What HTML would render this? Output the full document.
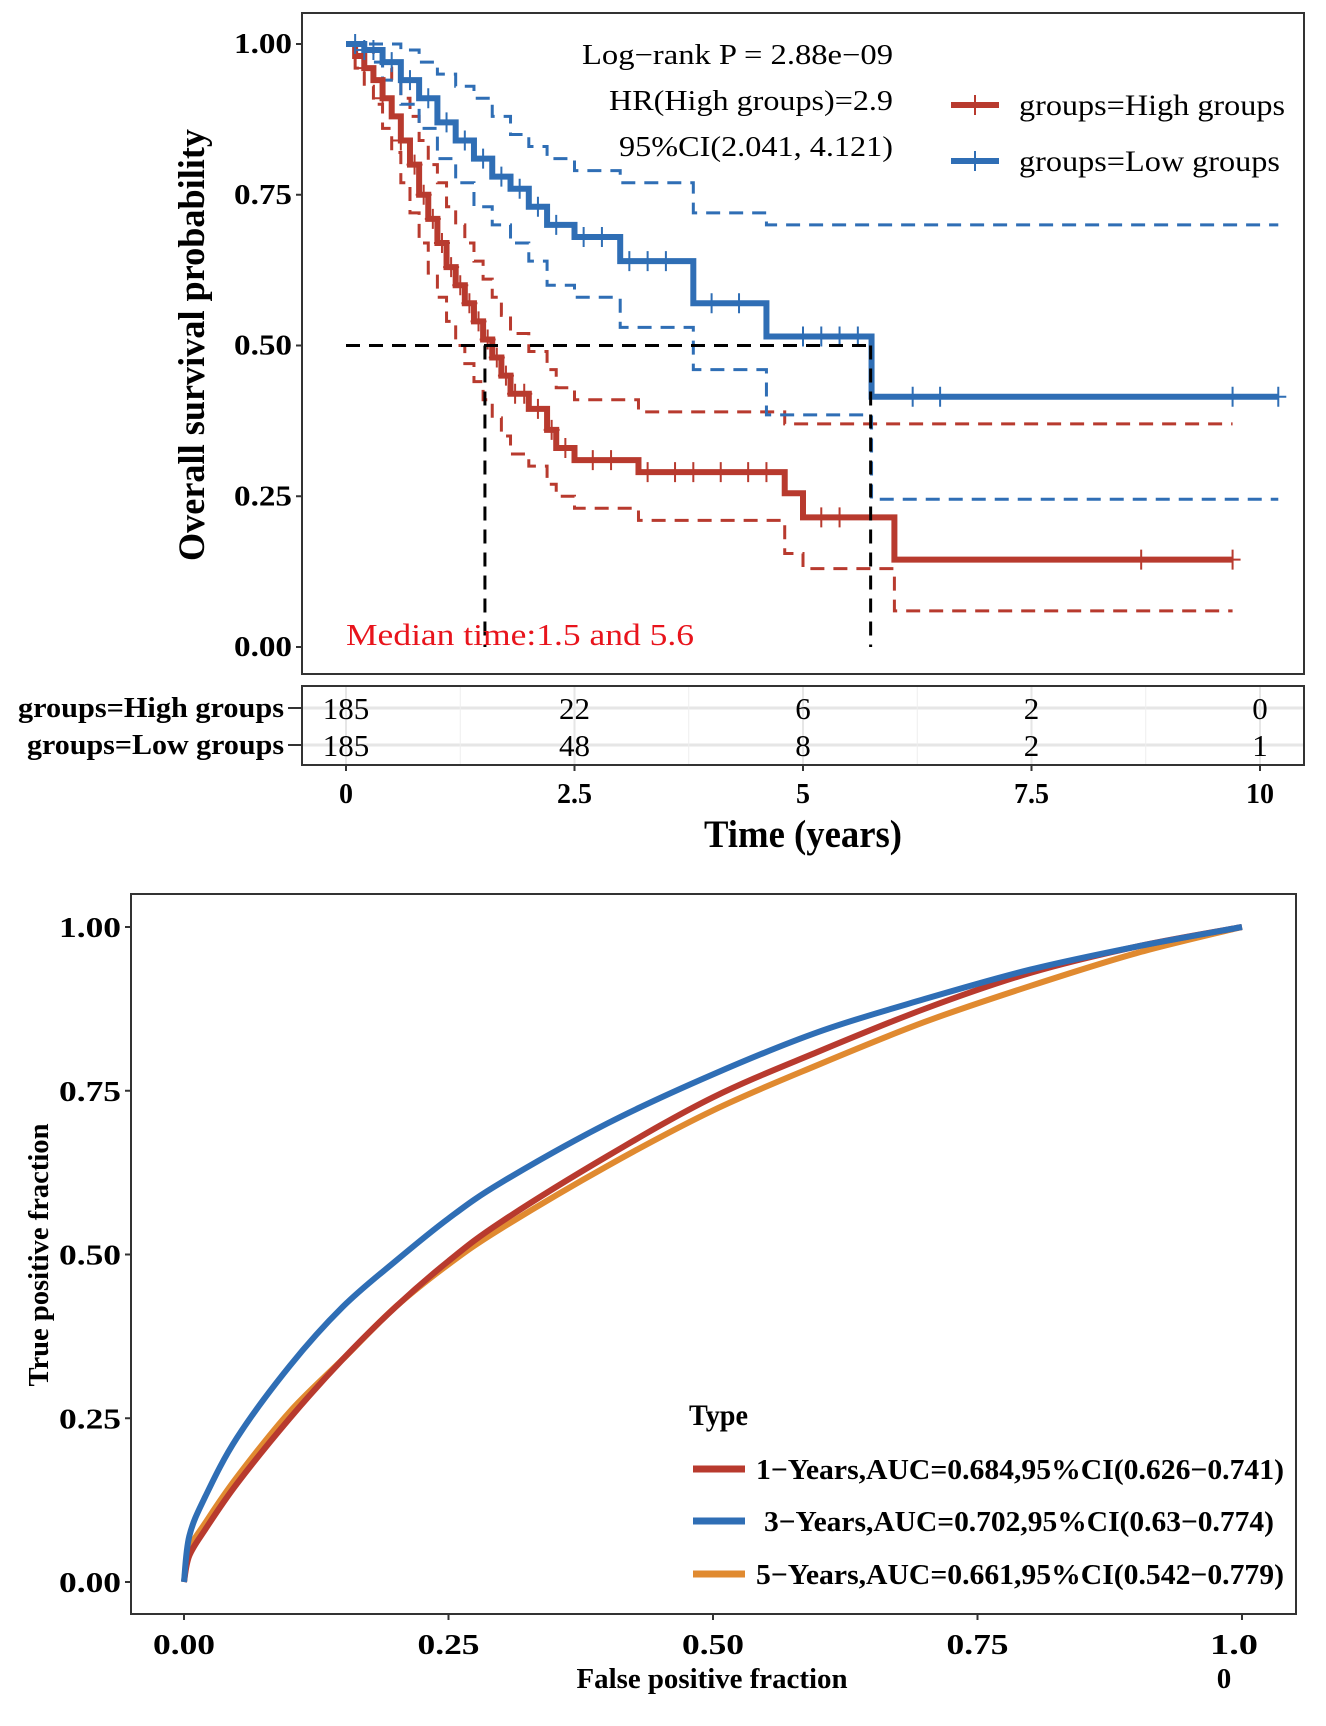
<!DOCTYPE html>
<html><head><meta charset="utf-8"><style>
body{margin:0;background:#fff}
svg{display:block;font-family:"Liberation Serif",serif}
</style></head><body>
<svg id="c" width="1326" height="1726" viewBox="0 0 1326 1726" xmlns="http://www.w3.org/2000/svg">
<g id="km"></g>
<g id="roc"></g>
</svg>
<script>
// ---- KM data ----
const highT=[0,0.1,0.2,0.3,0.4,0.5,0.6,0.7,0.8,0.9,1.0,1.1,1.2,1.3,1.4,1.5,1.6,1.7,1.8,2.0,2.2,2.3,2.5,3.2,4.8,5.0,6.0];
const highS=[1,0.98,0.96,0.94,0.91,0.88,0.84,0.80,0.75,0.71,0.67,0.63,0.60,0.57,0.54,0.51,0.48,0.45,0.42,0.395,0.36,0.33,0.31,0.29,0.255,0.215,0.145];
const highU=[1,1,0.99,0.98,0.96,0.94,0.91,0.88,0.84,0.80,0.77,0.73,0.70,0.67,0.64,0.61,0.58,0.55,0.52,0.49,0.46,0.43,0.41,0.39,0.37,0.37,0.37];
const highL=[1,0.96,0.93,0.90,0.86,0.82,0.77,0.72,0.67,0.62,0.58,0.54,0.50,0.47,0.44,0.41,0.38,0.35,0.32,0.30,0.27,0.25,0.23,0.21,0.155,0.13,0.06];
const highEnd=9.7;
const highCens=[0.2,0.4,0.6,0.75,0.85,0.95,1.05,1.15,1.25,1.35,1.45,1.55,1.65,1.75,1.85,1.95,2.1,2.25,2.4,2.7,2.9,3.3,3.6,3.8,4.1,4.4,4.6,5.2,5.4,8.7,9.7];
const lowT=[0,0.2,0.4,0.6,0.8,1.0,1.2,1.4,1.6,1.8,2.0,2.2,2.5,3.0,3.8,4.6,5.75];
const lowS=[1,0.99,0.97,0.94,0.91,0.87,0.84,0.81,0.78,0.76,0.73,0.70,0.68,0.64,0.57,0.515,0.415];
const lowU=[1,1,1,0.99,0.97,0.95,0.93,0.91,0.88,0.85,0.83,0.81,0.79,0.77,0.72,0.70,0.70];
const lowL=[1,0.97,0.94,0.90,0.86,0.81,0.77,0.73,0.70,0.67,0.64,0.60,0.58,0.53,0.46,0.385,0.245];
const lowEnd=10.2;
const lowCens=[0.1,0.2,0.3,0.5,0.7,0.9,1.1,1.3,1.5,1.7,1.9,2.1,2.3,2.6,2.8,3.1,3.3,3.5,4.0,4.3,5.0,5.2,5.4,5.6,6.2,6.5,9.7,10.2];
const yTicks=[0,0.25,0.5,0.75,1.0];
const yTickLabels=["0.00","0.25","0.50","0.75","1.00"];
const xTicks=[0,2.5,5,7.5,10];
const xTickLabels=["0","2.5","5","7.5","10"];
const riskHigh=[185,22,6,2,0];
const riskLow=[185,48,8,2,1];
const medians=[1.52,5.74];
// ---- ROC data ----
const fpr=[0,0.005,0.02,0.05,0.1,0.15,0.2,0.25,0.3,0.4,0.5,0.6,0.7,0.8,0.9,1];
const roc1=[0,0.04,0.08,0.15,0.25,0.34,0.42,0.49,0.55,0.65,0.74,0.81,0.875,0.93,0.97,1];
const roc3=[0,0.07,0.13,0.22,0.33,0.42,0.49,0.555,0.61,0.70,0.775,0.84,0.89,0.935,0.97,1];
const roc5=[0,0.05,0.09,0.16,0.26,0.34,0.42,0.485,0.54,0.635,0.72,0.79,0.855,0.91,0.96,1];
const rocTicks=[0,0.25,0.5,0.75,1];
const rocXLabels=["0.00","0.25","0.50","0.75","1.0"];
const rocYLabels=["0.00","0.25","0.50","0.75","1.00"];

const NS="http://www.w3.org/2000/svg";
function mk(p,tag,at,txt){const e=document.createElementNS(NS,tag);for(const k in at)e.setAttribute(k,at[k]);if(txt!==undefined)e.textContent=txt;p.appendChild(e);return e;}
function tx(p,at,txt,w){const e=mk(p,'text',at,txt);if(w){e.setAttribute('textLength',w);e.setAttribute('lengthAdjust','spacingAndGlyphs');}return e;}
const RED="#b83a2e",BLUE="#2f6eb5",ORANGE="#e08a30";

// ===== KM =====
const km=document.getElementById('km');
const kx=t=>346+t*91.4, ky=s=>647-s*603;
let e;
e=mk(km,'rect',{x:302,y:13,width:1002,height:661,fill:'#fff',stroke:'#333','stroke-width':2});

function stepPath(T,S,end){let d=`M${kx(T[0])},${ky(S[0])}`;for(let i=1;i<T.length;i++){d+=`H${kx(T[i])}V${ky(S[i])}`;}d+=`H${kx(end)}`;return d;}
function sAt(T,S,t){let s=S[0];for(let i=0;i<T.length;i++)if(T[i]<=t)s=S[i];return s;}
[[highT,highU,highEnd,RED,'high-upper-ci'],[highT,highL,highEnd,RED,'high-lower-ci'],[lowT,lowU,lowEnd,BLUE,'low-upper-ci'],[lowT,lowL,lowEnd,BLUE,'low-lower-ci']].forEach(a=>{
 e=mk(km,'path',{d:stepPath(a[0],a[1],a[2]===lowEnd?10.2:9.7),fill:'none',stroke:a[3],'stroke-width':3,'stroke-dasharray':'14,9'});
 
});
[[highT,highS,highEnd,RED,highCens,'high-group-curve'],[lowT,lowS,lowEnd,BLUE,lowCens,'low-group-curve']].forEach(a=>{
 e=mk(km,'path',{d:stepPath(a[0],a[1],a[2]),fill:'none',stroke:a[3],'stroke-width':6});
 
 a[4].forEach(t=>{const x=kx(t),y=ky(sAt(a[0],a[1],t));
  e=mk(km,'path',{d:`M${x-8},${y}H${x+8}M${x},${y-10}V${y+10}`,stroke:a[3],'stroke-width':2});
  });
});
e=mk(km,'path',{d:`M${kx(0)},${ky(0.5)}H${kx(medians[1])}M${kx(medians[0])},${ky(0.5)}V${ky(0)}M${kx(medians[1])},${ky(0.5)}V${ky(0)}`,fill:'none',stroke:'#000','stroke-width':3,'stroke-dasharray':'14,9'});

yTicks.forEach((v,i)=>{mk(km,'line',{x1:296,x2:302,y1:ky(v),y2:ky(v),stroke:'#333','stroke-width':2});
 e=tx(km,{x:292,y:ky(v)+9,'text-anchor':'end','font-size':28,'font-weight':'bold'},yTickLabels[i],58);
 });
e=tx(km,{x:0,y:0,transform:'translate(204,345) rotate(-90)','text-anchor':'middle','font-size':37,'font-weight':'bold'},'Overall survival probability',432);

[['Log\u2212rank P = 2.88e\u221209',311],['HR(High groups)=2.9',284],['95%CI(2.041, 4.121)',274]].forEach((s,i)=>{
 e=tx(km,{x:893,y:64+i*46,'text-anchor':'end','font-size':28},s[0],s[1]);
 });
[[RED,'groups=High groups',105,266],[BLUE,'groups=Low groups',161,261]].forEach(a=>{
 const g=mk(km,'g',{});
 mk(g,'line',{x1:951,x2:999,y1:a[2],y2:a[2],stroke:a[0],'stroke-width':6});
 mk(g,'line',{x1:975,x2:975,y1:a[2]-10,y2:a[2]+10,stroke:a[0],'stroke-width':2});
 tx(g,{x:1019,y:a[2]+10,'font-size':30},a[1],a[3]);});
e=tx(km,{x:346,y:645,'font-size':31,fill:'#e8141c'},'Median time:1.5 and 5.6',348);

// risk table
e=mk(km,'rect',{x:302,y:686,width:1002,height:79,fill:'#fff',stroke:'#333','stroke-width':2});

[708,745].forEach(y=>mk(km,'line',{x1:303,x2:1303,y1:y,y2:y,stroke:'#e6e6e6','stroke-width':3}));
[1.25,3.75,6.25,8.75].forEach(t=>mk(km,'line',{x1:kx(t),x2:kx(t),y1:687,y2:764,stroke:'#eeeeee','stroke-width':1}));
xTicks.forEach(t=>mk(km,'line',{x1:kx(t),x2:kx(t),y1:687,y2:764,stroke:'#e6e6e6','stroke-width':2}));
[[riskHigh,'groups=High groups',708,266],[riskLow,'groups=Low groups',745,257]].forEach(a=>{
 e=tx(km,{x:284,y:a[2]+9,'text-anchor':'end','font-size':28,'font-weight':'bold'},a[1],a[3]);
 
 mk(km,'line',{x1:288,x2:302,y1:a[2],y2:a[2],stroke:'#333','stroke-width':2});
 a[0].forEach((v,i)=>{e=mk(km,'text',{x:kx(xTicks[i]),y:a[2]+11,'text-anchor':'middle','font-size':31},v);
  });});
xTicks.forEach((t,i)=>{mk(km,'line',{x1:kx(t),x2:kx(t),y1:765,y2:771,stroke:'#333','stroke-width':2});
 e=mk(km,'text',{x:kx(t),y:803,'text-anchor':'middle','font-size':28,'font-weight':'bold'},xTickLabels[i]);
 });
e=tx(km,{x:803,y:847,'text-anchor':'middle','font-size':39,'font-weight':'bold'},'Time (years)',198);


// ===== ROC =====
const roc=document.getElementById('roc');
const rx=v=>184+v*1058, ry=v=>1582-v*655;
e=mk(roc,'rect',{x:131,y:894,width:1165,height:720,fill:'#fff',stroke:'#333','stroke-width':2});

function smooth(X,Y){const P=X.map((x,i)=>[rx(x),ry(Y[i])]);let d=`M${P[0][0]},${P[0][1]}`;
 for(let i=0;i<P.length-1;i++){const p0=P[Math.max(0,i-1)],p1=P[i],p2=P[i+1],p3=P[Math.min(P.length-1,i+2)];
  d+=`C${p1[0]+(p2[0]-p0[0])/6},${p1[1]+(p2[1]-p0[1])/6} ${p2[0]-(p3[0]-p1[0])/6},${p2[1]-(p3[1]-p1[1])/6} ${p2[0]},${p2[1]}`;}return d;}
[[roc5,ORANGE,'roc-5-years'],[roc1,RED,'roc-1-years'],[roc3,BLUE,'roc-3-years']].forEach(a=>{
 e=mk(roc,'path',{d:smooth(fpr,a[0]),fill:'none',stroke:a[1],'stroke-width':6});
 });
rocTicks.forEach((v,i)=>{
 mk(roc,'line',{x1:125,x2:131,y1:ry(v),y2:ry(v),stroke:'#333','stroke-width':2});
 e=tx(roc,{x:121,y:ry(v)+10,'text-anchor':'end','font-size':29,'font-weight':'bold'},rocYLabels[i],62);
 
 mk(roc,'line',{x1:rx(v),x2:rx(v),y1:1614,y2:1620,stroke:'#333','stroke-width':2});
 e=tx(roc,{x:rx(v)-(i==4?8:0),y:1654,'text-anchor':'middle','font-size':29,'font-weight':'bold'},rocXLabels[i],i==4?48:62);
 });
e=mk(roc,'text',{x:1224,y:1688,'text-anchor':'middle','font-size':29,'font-weight':'bold'},'0');

e=tx(roc,{x:712,y:1688,'text-anchor':'middle','font-size':29,'font-weight':'bold'},'False positive fraction',271);

e=tx(roc,{x:0,y:0,transform:'translate(48,1255) rotate(-90)','text-anchor':'middle','font-size':29,'font-weight':'bold'},'True positive fraction',263);

e=tx(roc,{x:689,y:1425,'font-size':30,'font-weight':'bold'},'Type',59);

[[RED,'1\u2212Years,AUC=0.684,95%CI(0.626\u22120.741)',1469,756,528],[BLUE,'3\u2212Years,AUC=0.702,95%CI(0.63\u22120.774)',1521,764,510],[ORANGE,'5\u2212Years,AUC=0.661,95%CI(0.542\u22120.779)',1574,756,528]].forEach(a=>{
 const g=mk(roc,'g',{});
 mk(g,'line',{x1:693,x2:745,y1:a[2],y2:a[2],stroke:a[0],'stroke-width':7});
 tx(g,{x:a[3],y:a[2]+10,'font-size':29,'font-weight':'bold'},a[1],a[4]);});
</script>
</body></html>
